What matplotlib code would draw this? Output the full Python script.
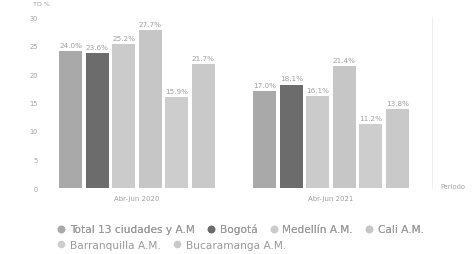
import matplotlib.pyplot as plt
from matplotlib.lines import Line2D

periods = ["Abr-Jun 2020", "Abr-Jun 2021"]
cities = ["Total 13 ciudades y A.M", "Bogotá", "Medellín A.M.", "Cali A.M.",
          "Barranquilla A.M.", "Bucaramanga A.M."]
values_2020 = [24.0, 23.6, 25.2, 27.7, 15.9, 21.7]
values_2021 = [17.0, 18.1, 16.1, 21.4, 11.2, 13.8]
colors = ["#a9a9a9", "#6c6c6c", "#cbcbcb", "#c6c6c6", "#cdcdcd", "#c9c9c9"]
yticks = [0, 5, 10, 15, 20, 25, 30]

txt = "#a0a0a0"
W, H = 472, 255
fig = plt.figure(figsize=(W / 100, H / 100), dpi=100)
ax = fig.add_axes([45 / W, 1 - 189 / H, (432 - 45) / W, (189 - 18) / H])

pitch = 0.1366
width = 0.118
for g, vals in enumerate([values_2020, values_2021]):
    for i, v in enumerate(vals):
        x = g + (i - 2.5) * pitch
        ax.bar(x, v, width=width, color=colors[i], edgecolor="none")
        ax.text(x, v + 0.6, f"{v:.1f}%", ha="center", va="bottom",
                fontsize=5.2, color=txt)

ax.set_xlim(-0.474, 1.52)
ax.set_ylim(0, 30)
ax.set_xticks([0, 1])
ax.set_xticklabels(periods, fontsize=5, color=txt)
ax.set_yticks(yticks)
ax.set_yticklabels([str(t) for t in yticks], fontsize=4.8, color=txt)
ax.tick_params(length=0, pad=5)
for s in ["top", "left", "bottom"]:
    ax.spines[s].set_visible(False)
ax.spines["right"].set_color("#ececec")
ax.spines["right"].set_linewidth(0.6)

fig.text(33 / W, 1 - 5 / H, "TD %", fontsize=4.5, color=txt, ha="left", va="center")
fig.text(440 / W, 1 - 187 / H, "Periodo", fontsize=4.8, color=txt, ha="left", va="center")

handles = [Line2D([], [], marker="o", linestyle="none", markersize=5.5,
                  markerfacecolor=c, markeredgecolor="none") for c in colors]
common = dict(loc="center left", frameon=False, fontsize=7.6, labelcolor="#999999",
              handletextpad=0.35, columnspacing=1.0, borderaxespad=0, borderpad=0,
              handlelength=1.0)
leg1 = fig.legend(handles[:4], cities[:4], ncol=4,
                  bbox_to_anchor=(56 / W, 1 - 230 / H), **common)
fig.legend(handles[4:], cities[4:], ncol=2,
           bbox_to_anchor=(56 / W, 1 - 246 / H), **common)
fig.add_artist(leg1)

fig.savefig("out.png", dpi=100)
